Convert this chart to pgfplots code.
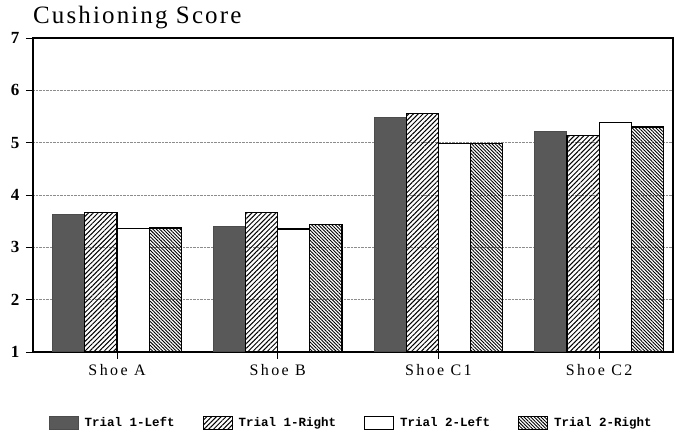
\documentclass[border=0pt]{standalone}
\usepackage{fontspec}
\setmainfont{Liberation Serif}
\newfontfamily\titlefont[LetterSpace=8.5]{Liberation Serif}
\newfontfamily\xfont[LetterSpace=15]{Liberation Serif}
\newfontfamily\legfont{Liberation Mono}
\usepackage{pgfplots}
\pgfplotsset{compat=1.18}
\usetikzlibrary{patterns.meta}
\begin{document}
\begin{tikzpicture}
\path[use as bounding box] (0,0) rectangle (675pt,436pt);
\begin{axis}[
  at={(33pt,84pt)}, anchor=south west,
  scale only axis, width=640pt, height=314pt,
  ybar, bar width=0.2,
  xmin=-0.523, xmax=3.46, ymin=1, ymax=7,
  xtick={0,1,2,3}, xticklabels={Shoe A, Shoe B, Shoe C1, Shoe C2},
  ytick={1,2,3,4,5,6,7},
  tick align=outside, major tick length=7pt,
  xtick pos=bottom, ytick pos=left,
  tick style={black, line width=0.9pt},
  ymajorgrids, grid style={densely dotted, black!45, line width=0.6pt},
  axis line style={line width=1.1pt},
  /pgf/number format/assume math mode=true,
  yticklabel style={font=\bfseries\fontsize{17}{17}\selectfont, xshift=-3pt},
  xticklabel style={font=\xfont\fontsize{16}{16}\selectfont, yshift=-2pt},
  title={Cushioning Score},
  title style={at={(0,1)}, anchor=base west, yshift=8pt, inner sep=0pt,
    font=\titlefont\fontsize{25}{25}\selectfont},
  legend columns=4,
  legend style={draw=none, at={(0.497,-0.226)}, anchor=center,
    font=\legfont\bfseries\fontsize{12.5}{12.5}\selectfont,
    /tikz/every odd column/.append style={column sep=4pt},
    /tikz/every even column/.append style={column sep=26pt}},
  legend image code/.code={\draw[#1, line width=1pt] (0pt,-6.5pt) rectangle (29pt,6.5pt);},
]
\addplot[fill=black!65, draw=black!70, line width=1pt, bar shift=-0.3]
  coordinates {(0,3.63) (1,3.40) (2,5.48) (3,5.21)};
\addplot[pattern={Lines[angle=45,distance=3.4pt,line width=1pt]}, draw=black, line width=1.1pt, bar shift=-0.1]
  coordinates {(0,3.66) (1,3.67) (2,5.55) (3,5.14)};
\addplot[fill=white, draw=black, line width=1.1pt, bar shift=0.1]
  coordinates {(0,3.36) (1,3.35) (2,4.98) (3,5.38)};
\addplot[pattern={Lines[angle=-45,distance=2.4pt,line width=0.9pt]}, draw=black, line width=1.1pt, bar shift=0.3]
  coordinates {(0,3.37) (1,3.44) (2,4.98) (3,5.30)};
\legend{Trial 1-Left, Trial 1-Right, Trial 2-Left, Trial 2-Right}
\end{axis}
\end{tikzpicture}
\end{document}
